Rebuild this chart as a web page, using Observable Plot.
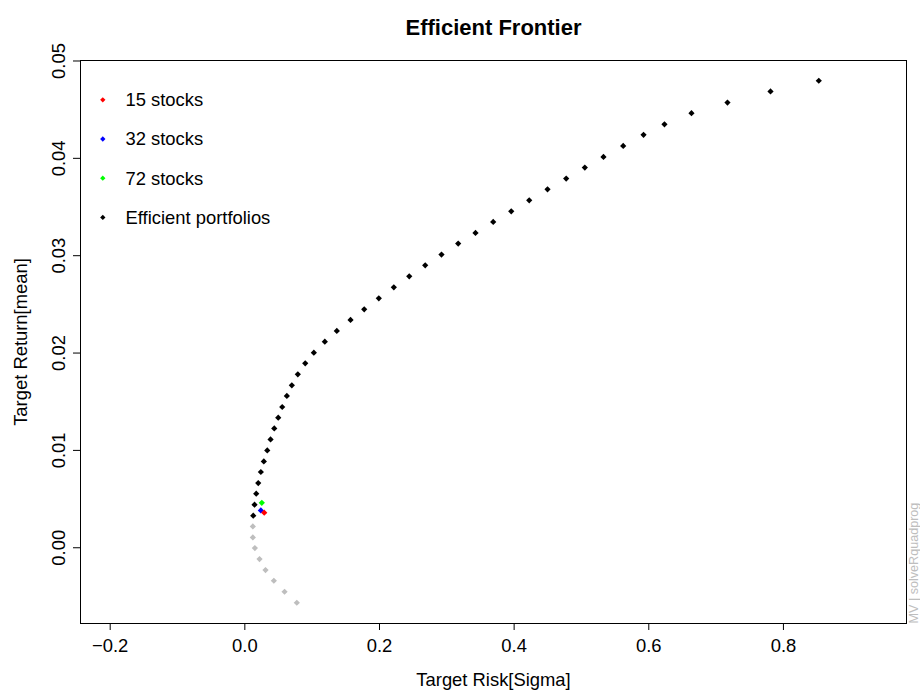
<!DOCTYPE html>
<html>
<head>
<meta charset="utf-8">
<script src="https://cdn.jsdelivr.net/npm/d3@7"></script>
<script src="https://cdn.jsdelivr.net/npm/@observablehq/plot@0.6"></script>
<style>
  html, body { margin: 0; padding: 0; background: #fff; }
  svg { display: block; }
</style>
</head>
<body>
<div id="chart"></div>
<script>
// Efficient frontier (upper branch, black)
const frontierRisk = [0.8525, 0.7808, 0.7169, 0.6634, 0.6233, 0.5922, 0.5620, 0.5327, 0.5050, 0.4773,
  0.4496, 0.4224, 0.3957, 0.3689, 0.3426, 0.3169, 0.2921, 0.2679, 0.2442, 0.2213,
  0.1990, 0.1773, 0.1570, 0.1366, 0.1188, 0.1025, 0.0897, 0.0787, 0.0698, 0.0624,
  0.0555, 0.0496, 0.0437, 0.0382, 0.0333, 0.0282, 0.0238, 0.0199, 0.0169, 0.0144, 0.0125];
const frontierReturn = [0.04797, 0.04687, 0.04573, 0.04464, 0.04350, 0.04242, 0.04128, 0.04015, 0.03905, 0.03792,
  0.03682, 0.03569, 0.03456, 0.03347, 0.03234, 0.03124, 0.03011, 0.02901, 0.02788, 0.02675,
  0.02562, 0.02449, 0.02340, 0.02227, 0.02117, 0.02004, 0.01894, 0.01781, 0.01668, 0.01559,
  0.01446, 0.01336, 0.01226, 0.01113, 0.01000, 0.00887, 0.00778, 0.00665, 0.00555, 0.00442, 0.00329];
// Inefficient (lower branch, grey)
const lowerRisk = [0.0119, 0.0119, 0.0149, 0.0218, 0.0307, 0.0431, 0.0590, 0.0772];
const lowerReturn = [0.00219, 0.00106, -0.00003, -0.00116, -0.00229, -0.00339, -0.00452, -0.00565];
// Single portfolios
const portfolioLabels = ["32 stocks", "15 stocks", "72 stocks"];
const portfolioRisk = [0.0238, 0.0288, 0.0252];
const portfolioReturn = [0.00383, 0.00360, 0.00462];

const legendLabels = ["15 stocks", "32 stocks", "72 stocks", "Efficient portfolios"];
const xTicks = [-0.2, 0.0, 0.2, 0.4, 0.6, 0.8];
const yTicks = [0.00, 0.01, 0.02, 0.03, 0.04, 0.05];
const titleText = "Efficient Frontier";
const xLabel = "Target Risk[Sigma]";
const yLabel = "Target Return[mean]";
const noteText = "MV | solveRquadprog";

// styles
const palette = ["#FF0000", "#0000FF", "#00FF00", "#000000"];
const greyCol = "#BEBEBE";

const frontier = frontierRisk.map((x, i) => ({x, y: frontierReturn[i]}));
const lower = lowerRisk.map((x, i) => ({x, y: lowerReturn[i]}));
const portfolios = portfolioLabels.map((label, i) => ({label, x: portfolioRisk[i], y: portfolioReturn[i]}));

const legendMarks = legendLabels.flatMap((label, i) => [
  Plot.dot([label], {frameAnchor: "top-left", dx: 22.3, dy: 39.3 + 39.2 * i, symbol: "diamond2", r: 2.4, fill: palette[i]}),
  Plot.text([label], {frameAnchor: "top-left", dx: 45, dy: 39.8 + 39.2 * i, text: d => d, textAnchor: "start", lineAnchor: "middle", fill: "#000"})
]);

const chart = Plot.plot({
  width: 920,
  height: 691,
  marginLeft: 80,
  marginRight: 14,
  marginTop: 60,
  marginBottom: 68,
  style: {fontFamily: "'Liberation Sans', Arial, Helvetica, sans-serif", fontSize: "18.4px", color: "#000", background: "#fff", overflow: "visible"},
  x: {domain: [-0.2441, 0.9828]},
  y: {domain: [-0.00778, 0.05005]},
  color: {domain: legendLabels, range: palette},
  marks: [
    Plot.axisX({ticks: xTicks, tickSize: 7, tickPadding: 8, label: null, fontSize: 18.4,
      tickFormat: d => d.toFixed(1).replace("-", "\u2212")}),
    Plot.axisY({ticks: yTicks, tickSize: 7, tickPadding: 9, tickRotate: -90, label: null, fontSize: 18.4,
      tickFormat: d => d.toFixed(2)}),
    Plot.frame({stroke: "#000", strokeWidth: 1}),
    Plot.dot(lower, {x: "x", y: "y", symbol: "diamond2", r: 2.8, fill: greyCol}),
    Plot.dot(frontier, {x: "x", y: "y", symbol: "diamond2", r: 2.8, fill: "#000"}),
    Plot.dot(portfolios, {x: "x", y: "y", symbol: "diamond2", r: 2.8, fill: "label"}),
    ...legendMarks,
    Plot.text([titleText], {frameAnchor: "top", dy: -33, text: d => d, fontWeight: "bold", fontSize: 22, lineAnchor: "middle", fill: "#000"}),
    Plot.text([xLabel], {frameAnchor: "bottom", dy: 57, text: d => d, lineAnchor: "middle", fill: "#000"}),
    Plot.text([yLabel], {frameAnchor: "left", dx: -59, rotate: -90, text: d => d, textAnchor: "middle", lineAnchor: "middle", fill: "#000"}),
    Plot.text([noteText], {frameAnchor: "bottom-right", dx: 7, rotate: -90, text: d => d, textAnchor: "start", lineAnchor: "middle", fontSize: 12.6, fill: greyCol})
  ]
});
document.getElementById("chart").appendChild(chart);
</script>
</body>
</html>
